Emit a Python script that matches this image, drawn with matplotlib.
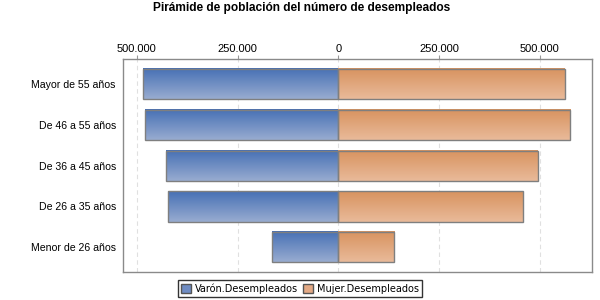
import matplotlib
matplotlib.use("Agg")
import matplotlib.pyplot as plt
import numpy as np
from matplotlib.ticker import FuncFormatter, FixedLocator
from matplotlib.patches import Patch

categorias = ["Mayor de 55 años", "De 46 a 55 años", "De 36 a 45 años",
              "De 26 a 35 años", "Menor de 26 años"]
varones = [484000, 479000, 427000, 422000, 164000]
mujeres = [563000, 576000, 496000, 459000, 139000]
ticks = [-500000, -250000, 0, 250000, 500000]

azul_top, azul_bot = "#4770b5", "#98acd0"
nar_top, nar_bot = "#d8935f", "#e9ba9a"


def gradiente(c1, c2, n=64):
    a = np.array(matplotlib.colors.to_rgb(c1))
    b = np.array(matplotlib.colors.to_rgb(c2))
    t = np.linspace(0, 1, n)[:, None]
    return (a * (1 - t) + b * t)[:, None, :]


plt.rcParams['font.family'] = ['Liberation Sans', 'DejaVu Sans']
fig = plt.figure(figsize=(6, 3), dpi=100)
ax = fig.add_axes([0.2045, 0.093, 0.7825, 0.709])

y = np.arange(len(categorias))
b1 = ax.barh(y, [-v for v in varones], height=0.74, facecolor="none",
             edgecolor="#7f7f7f", linewidth=1.0, zorder=3)
b2 = ax.barh(y, mujeres, height=0.74, facecolor="none",
             edgecolor="#7f7f7f", linewidth=1.0, zorder=3)

# relleno degradado dentro de cada barra
for barras, (c1, c2) in ((b1, (azul_top, azul_bot)), (b2, (nar_top, nar_bot))):
    img = gradiente(c1, c2)
    for r in barras:
        x0, yb = r.get_x(), r.get_y()
        w, h = r.get_width(), r.get_height()
        ax.imshow(img, extent=[x0, x0 + w, yb + h, yb], aspect='auto',
                  zorder=2, interpolation='bilinear')

ax.set_xlim(-535000, 630000)
ax.set_ylim(4.61, -0.61)
ax.set_aspect('auto')

ax.xaxis.set_major_locator(FixedLocator(ticks))
ax.xaxis.set_major_formatter(FuncFormatter(lambda v, p: f"{abs(int(v)):,}".replace(",", ".")))
ax.xaxis.tick_top()
ax.tick_params(axis='x', length=3, color="#9a9a9a", labelsize=8, pad=1)
ax.set_yticks(y)
ax.set_yticklabels(categorias, fontsize=7.6)
ax.tick_params(axis='y', length=0, pad=5)
ax.grid(axis='x', linestyle=(0, (4, 3)), color="#e0e0e0", linewidth=0.8, zorder=0)
ax.set_axisbelow(True)
for s in ax.spines.values():
    s.set_color("#8a8a8a")
    s.set_linewidth(1.0)

fig.text(0.502, 0.972, "Pirámide de población del número de desempleados",
         ha='center', va='center', fontsize=8.6, fontweight='bold')

handles = [Patch(facecolor="#6f8cc3", edgecolor="#555555", label="Varón.Desempleados"),
           Patch(facecolor="#e3a985", edgecolor="#555555", label="Mujer.Desempleados")]
leg = fig.legend(handles=handles, loc='center', bbox_to_anchor=(0.5, 0.038), ncol=2,
                 frameon=True, fancybox=False, prop={'family': 'DejaVu Sans', 'size': 7},
                 handlelength=1.0, handleheight=1.0, handletextpad=0.4,
                 columnspacing=0.5, borderpad=0.3, borderaxespad=0)
leg.get_frame().set_edgecolor("black")
leg.get_frame().set_linewidth(1.0)

fig.savefig("out.png", dpi=100)
